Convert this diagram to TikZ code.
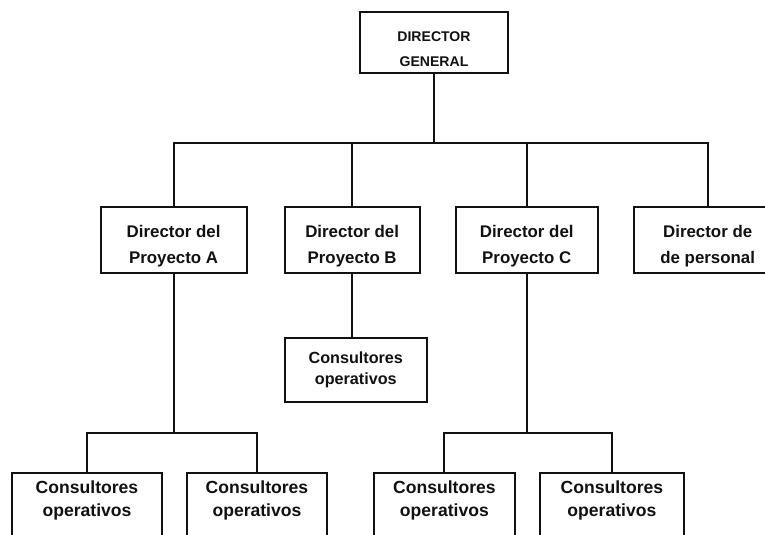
\documentclass[tikz,border=0pt]{standalone}
\usepackage{fontspec}
\setmainfont{Liberation Sans}
\usepackage{xcolor}
\usepackage{tikz}
\usetikzlibrary{positioning,calc}
\definecolor{tinta}{HTML}{111111}
% texto bajado dentro de la caja, sin cambiar su tamano
\newcommand{\bajar}[2]{\raisebox{-#1}[\height][\depth]{%
  \begin{tabular}{@{}c@{}}#2\end{tabular}}}

\begin{document}
\begin{tikzpicture}[
    caja/.style={draw=tinta,line width=1.4pt,inner sep=2pt,align=center,
                 text=tinta,font=\bfseries\fontsize{12}{18.5}\selectfont},
    jefe/.style={caja,minimum width=3.7cm,minimum height=1.52cm,
                 font=\bfseries\fontsize{10}{17.5}\selectfont},
    director/.style={caja,minimum height=1.65cm},
    consul/.style={caja,minimum height=2.4cm,anchor=north,
                 font=\bfseries\fontsize{12.5}{16.5}\selectfont},
    linea/.style={draw=tinta,line width=1.4pt}]
  \useasboundingbox (0,0) rectangle (19.125,-13.35);
  \clip (0,0) rectangle (19.125,-13.35);
  \node[jefe] (dg) at (10.85,-1.06) {\bajar{0.17cm}{DIRECTOR\\GENERAL}};
  \node[director,minimum width=3.65cm] (pa) at (4.34,-6.0)
    {\bajar{0.12cm}{Director del\\Proyecto A}};
  \node[director,minimum width=3.38cm,right=0.9cm of pa] (pb)
    {\bajar{0.12cm}{Director del\\Proyecto B}};
  \node[director,minimum width=3.55cm,right=0.85cm of pb] (pc)
    {\bajar{0.12cm}{Director del\\Proyecto C}};
  \node[director,minimum width=3.7cm,right=0.85cm of pc] (pp)
    {\bajar{0.12cm}{Director de\\de personal}};
  \node[caja,minimum width=3.55cm,minimum height=1.6cm,below=1.575cm of pb,
        xshift=0.09cm,font=\bfseries\fontsize{11.5}{15}\selectfont] (cb)
    {Consultores\\operativos};
  \node[consul,minimum width=3.75cm] (ca1) at (2.175,-11.8)
    {Consultores\\operativos\\\rule{0pt}{1cm}};
  \node[consul,minimum width=3.5cm,right=0.575cm of ca1] (ca2)
    {Consultores\\operativos\\\rule{0pt}{1cm}};
  \node[consul,minimum width=3.525cm] (cc1) at (11.11,-11.8)
    {Consultores\\operativos\\\rule{0pt}{1cm}};
  \node[consul,minimum width=3.6cm,right=0.575cm of cc1] (cc2)
    {Consultores\\operativos\\\rule{0pt}{1cm}};
  \coordinate (bus) at (0,-3.575);
  \coordinate (busa) at (0,-10.825);
  \draw[linea] (dg.south) -- (dg.south |- bus);
  \draw[linea] (pa.north) -- (pa.north |- bus) -| (pp.north);
  \draw[linea] (pb.north) -- (pb.north |- bus);
  \draw[linea] (pc.north) -- (pc.north |- bus);
  \draw[linea] (pb.south) -- (pb.south |- cb.north);
  \draw[linea] (pa.south) -- (pa.south |- busa);
  \draw[linea] (ca1.north) -- (ca1.north |- busa) -| (ca2.north);
  \draw[linea] (pc.south) -- (pc.south |- busa);
  \draw[linea] (cc1.north) -- (cc1.north |- busa) -| (cc2.north);
\end{tikzpicture}
\end{document}
